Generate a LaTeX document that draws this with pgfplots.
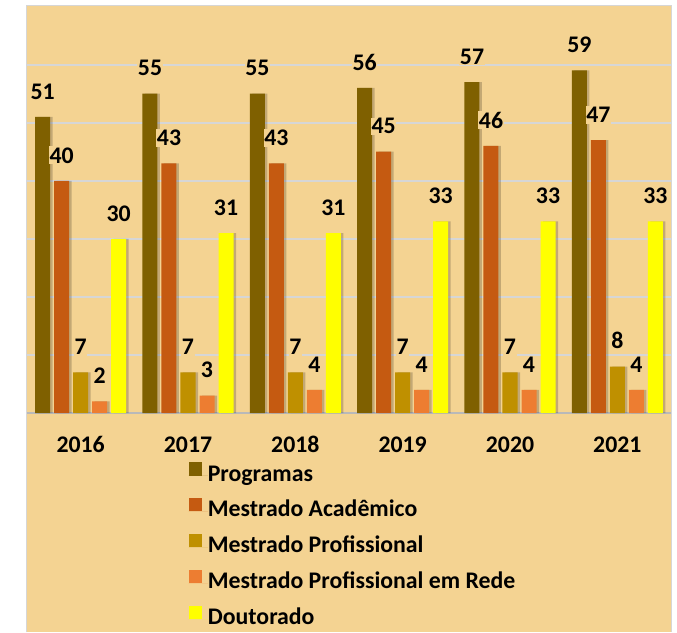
\documentclass[border=0pt]{standalone}
\usepackage{pgfplots}
\pgfplotsset{compat=1.18}
\usepackage{fontspec}
\setmainfont{Carlito}
\IfFontExistsTF{Carlito-Bold.ttf}
  {\newfontfamily\cbf{Carlito-Bold.ttf}}
  {\IfFontExistsTF{Carlito Bold}
     {\newfontfamily\cbf{Carlito Bold}}
     {\newfontfamily\cbf{Carlito}[FakeBold=2.2, LetterSpace=0.6]}}
\definecolor{bg}{HTML}{F4D392}
\definecolor{grd}{HTML}{D6D6D6}
\definecolor{cA}{HTML}{7F6000}
\definecolor{cB}{HTML}{C55A11}
\definecolor{cC}{HTML}{BF9000}
\definecolor{cD}{HTML}{ED7D31}
\definecolor{cE}{HTML}{FFFF00}
\newcommand\lbl{\fontsize{23.8}{28}\selectfont\cbf}
\pgfplotsset{
  mybar/.style 2 args={fill=#1, draw=none, bar shift=#2, nodes near coords,
    legend image code/.code={\fill[fill=#1] (0pt,0pt) rectangle (13.3pt,13.3pt); \path (0pt,0pt) -- (19.3pt,0pt);}},
  shad/.style={fill=black, fill opacity=0.2, draw=none, bar shift=#1, forget plot},
}
\begin{document}
\begin{tikzpicture}
\fill[white] (0pt,0pt) rectangle (677pt,632pt);
\fill[bg] (27pt,0pt) rectangle (671pt,626pt);
\draw[grd, line width=1pt] (26.5pt,0pt) -- (26.5pt,626.5pt) -- (671.5pt,626.5pt) -- (671.5pt,0pt);
\begin{axis}[
  at={(27pt,219pt)}, anchor=south west,
  scale only axis, width=644pt, height=406.4pt,
  ybar, bar width=15pt,
  xmin=-0.5, xmax=5.5, ymin=0, ymax=70,
  xtick={0,1,2,3,4,5},
  xticklabels={2016,2017,2018,2019,2020,2021},
  xticklabel style={font=\lbl, anchor=base, yshift=-39pt},
  ytick={10,20,30,40,50,60}, yticklabels={},
  axis line style={draw=none}, tick style={draw=none},
  major tick length=0pt,
  ymajorgrids, grid style={draw=grd, line width=2pt},
  extra y ticks={0}, extra y tick labels={},
  extra y tick style={ymajorgrids=true, major grid style={draw=gray!55, line width=2.5pt}},
  /pgf/number format/assume math mode=true,
  every node near coord/.append style={font=\lbl, anchor=south, yshift=16.4pt, fill=bg, inner xsep=0.5pt, inner ysep=1pt},
  legend style={at={(0.2505,-0.1206)}, anchor=north west, draw=none, fill=none, inner sep=0pt,
    row sep=11.1pt, font=\lbl, nodes={inner sep=0pt, text height=17pt, text depth=6pt}},
  legend cell align=left,
]
% soft shadows
\addplot[shad=-35.5pt] coordinates {(0,51) (1,55) (2,55) (3,56) (4,57) (5,59)};
\addplot[shad=-16.5pt] coordinates {(0,40) (1,43) (2,43) (3,45) (4,46) (5,47)};
\addplot[shad=2.5pt] coordinates {(0,7) (1,7) (2,7) (3,7) (4,7) (5,8)};
\addplot[shad=21.5pt] coordinates {(0,2) (1,3) (2,4) (3,4) (4,4) (5,4)};
\addplot[shad=40.5pt] coordinates {(0,30) (1,31) (2,31) (3,33) (4,33) (5,33)};
% bars
\addplot[mybar={cA}{-38pt}] coordinates {(0,51) (1,55) (2,55) (3,56) (4,57) (5,59)};
\addplot[mybar={cB}{-19pt}] coordinates {(0,40) (1,43) (2,43) (3,45) (4,46) (5,47)};
\addplot[mybar={cC}{0pt}] coordinates {(0,7) (1,7) (2,7) (3,7) (4,7) (5,8)};
\addplot[mybar={cD}{19pt}] coordinates {(0,2) (1,3) (2,4) (3,4) (4,4) (5,4)};
\addplot[mybar={cE}{38pt}] coordinates {(0,30) (1,31) (2,31) (3,33) (4,33) (5,33)};
\legend{Programas, Mestrado Acadêmico, Mestrado Profissional, Mestrado Profissional em Rede, Doutorado}
\end{axis}
\pgfresetboundingbox
\path (0pt,0pt) rectangle (677pt,632pt);
\end{tikzpicture}
\end{document}
